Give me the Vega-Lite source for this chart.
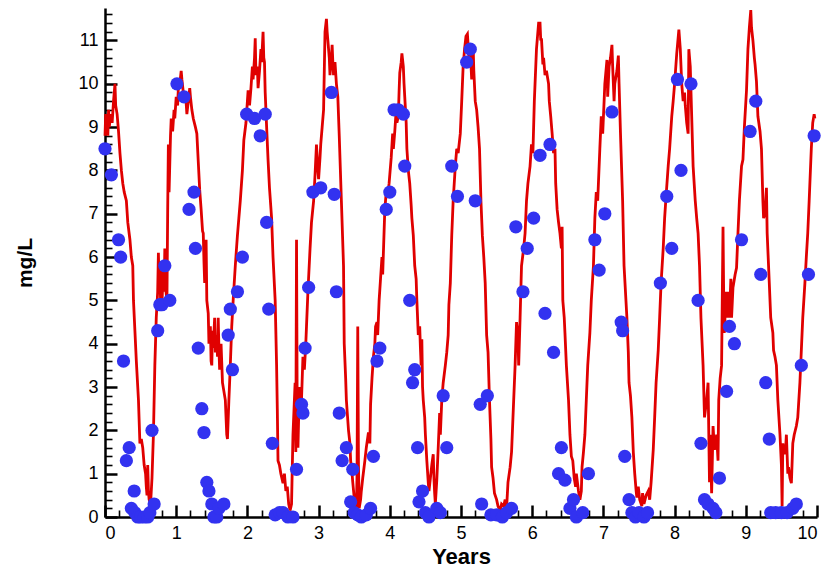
{
  "$schema": "https://vega.github.io/schema/vega-lite/v6.json",
  "autosize": "none",
  "width": 712,
  "height": 509,
  "padding": {"left": 105, "top": 8, "right": 12, "bottom": 50},
  "background": "white",
  "config": {
    "view": {"stroke": null},
    "axis": {
      "domainColor": "black",
      "domainWidth": 2.5,
      "tickColor": "black",
      "labelColor": "black",
      "titleColor": "black",
      "labelFont": "Liberation Sans",
      "titleFont": "Liberation Sans",
      "labelFontSize": 18,
      "grid": false
    }
  },
  "datasets": {
    "model": [
      {"t": 0.0, "v": 8.8}, {"t": 0.01, "v": 9.3}, {"t": 0.02, "v": 8.9}, {"t": 0.03, "v": 9.2}, {"t": 0.04, "v": 8.8},
      {"t": 0.05, "v": 9.4}, {"t": 0.06, "v": 9.0}, {"t": 0.08, "v": 9.3}, {"t": 0.1, "v": 9.1}, {"t": 0.12, "v": 9.6},
      {"t": 0.14, "v": 10.0}, {"t": 0.15, "v": 9.5}, {"t": 0.17, "v": 9.3}, {"t": 0.19, "v": 8.9}, {"t": 0.21, "v": 8.4},
      {"t": 0.23, "v": 8.0}, {"t": 0.25, "v": 7.7}, {"t": 0.27, "v": 7.5}, {"t": 0.3, "v": 7.3}, {"t": 0.32, "v": 6.8},
      {"t": 0.35, "v": 6.4}, {"t": 0.37, "v": 6.0}, {"t": 0.39, "v": 5.8}, {"t": 0.4, "v": 5.0}, {"t": 0.42, "v": 4.3},
      {"t": 0.44, "v": 3.6}, {"t": 0.46, "v": 3.0}, {"t": 0.47, "v": 2.7}, {"t": 0.49, "v": 1.7}, {"t": 0.51, "v": 1.8},
      {"t": 0.53, "v": 1.6}, {"t": 0.55, "v": 1.2}, {"t": 0.57, "v": 1.0}, {"t": 0.58, "v": 0.7}, {"t": 0.59, "v": 0.5},
      {"t": 0.6, "v": 1.2}, {"t": 0.61, "v": 0.6}, {"t": 0.62, "v": 0.4}, {"t": 0.64, "v": 0.3}, {"t": 0.66, "v": 0.9},
      {"t": 0.68, "v": 1.9}, {"t": 0.7, "v": 3.5}, {"t": 0.72, "v": 4.6}, {"t": 0.74, "v": 5.2}, {"t": 0.75, "v": 6.1},
      {"t": 0.76, "v": 5.3}, {"t": 0.77, "v": 5.9}, {"t": 0.78, "v": 5.0}, {"t": 0.79, "v": 5.7}, {"t": 0.8, "v": 4.9},
      {"t": 0.82, "v": 5.8}, {"t": 0.83, "v": 5.2}, {"t": 0.84, "v": 6.2}, {"t": 0.85, "v": 5.3}, {"t": 0.87, "v": 5.0},
      {"t": 0.88, "v": 7.0}, {"t": 0.89, "v": 8.6}, {"t": 0.9, "v": 7.5}, {"t": 0.92, "v": 8.8}, {"t": 0.93, "v": 9.2},
      {"t": 0.95, "v": 8.9}, {"t": 0.97, "v": 9.4}, {"t": 0.98, "v": 9.2}, {"t": 1.0, "v": 9.7}, {"t": 1.02, "v": 9.5},
      {"t": 1.03, "v": 9.9}, {"t": 1.05, "v": 10.0}, {"t": 1.07, "v": 10.3}, {"t": 1.08, "v": 10.1}, {"t": 1.1, "v": 9.8},
      {"t": 1.12, "v": 9.6}, {"t": 1.13, "v": 9.8}, {"t": 1.15, "v": 9.3}, {"t": 1.17, "v": 9.6}, {"t": 1.19, "v": 9.9},
      {"t": 1.2, "v": 9.7}, {"t": 1.22, "v": 9.4}, {"t": 1.24, "v": 9.2}, {"t": 1.27, "v": 9.0}, {"t": 1.29, "v": 8.85},
      {"t": 1.31, "v": 8.2}, {"t": 1.33, "v": 7.55}, {"t": 1.35, "v": 7.1}, {"t": 1.37, "v": 6.6}, {"t": 1.38, "v": 6.55},
      {"t": 1.39, "v": 5.9}, {"t": 1.4, "v": 5.4}, {"t": 1.42, "v": 6.4}, {"t": 1.43, "v": 5.0}, {"t": 1.45, "v": 4.7},
      {"t": 1.46, "v": 4.0}, {"t": 1.48, "v": 4.4}, {"t": 1.49, "v": 3.6}, {"t": 1.5, "v": 3.5}, {"t": 1.51, "v": 4.3},
      {"t": 1.52, "v": 3.9}, {"t": 1.54, "v": 4.6}, {"t": 1.55, "v": 3.8}, {"t": 1.57, "v": 4.2}, {"t": 1.58, "v": 3.7},
      {"t": 1.59, "v": 4.6}, {"t": 1.6, "v": 3.9}, {"t": 1.61, "v": 3.4}, {"t": 1.63, "v": 4.0}, {"t": 1.65, "v": 3.1},
      {"t": 1.67, "v": 2.9}, {"t": 1.69, "v": 2.7}, {"t": 1.71, "v": 1.9}, {"t": 1.72, "v": 1.8}, {"t": 1.74, "v": 2.7},
      {"t": 1.76, "v": 3.5}, {"t": 1.78, "v": 4.4}, {"t": 1.8, "v": 5.0}, {"t": 1.83, "v": 5.8}, {"t": 1.86, "v": 6.5},
      {"t": 1.88, "v": 6.9}, {"t": 1.9, "v": 7.3}, {"t": 1.93, "v": 8.0}, {"t": 1.95, "v": 8.7}, {"t": 1.98, "v": 9.1},
      {"t": 2.0, "v": 9.6}, {"t": 2.01, "v": 9.85}, {"t": 2.03, "v": 9.5}, {"t": 2.05, "v": 9.9}, {"t": 2.07, "v": 10.4},
      {"t": 2.08, "v": 10.1}, {"t": 2.1, "v": 10.6}, {"t": 2.11, "v": 11.05}, {"t": 2.12, "v": 10.2}, {"t": 2.14, "v": 10.4},
      {"t": 2.15, "v": 9.9}, {"t": 2.17, "v": 10.3}, {"t": 2.19, "v": 10.8}, {"t": 2.2, "v": 10.5}, {"t": 2.22, "v": 11.2},
      {"t": 2.23, "v": 10.6}, {"t": 2.24, "v": 10.5}, {"t": 2.25, "v": 9.8}, {"t": 2.27, "v": 9.0}, {"t": 2.29, "v": 8.25},
      {"t": 2.31, "v": 7.6}, {"t": 2.34, "v": 6.9}, {"t": 2.36, "v": 6.0}, {"t": 2.39, "v": 5.0}, {"t": 2.41, "v": 3.5},
      {"t": 2.42, "v": 2.5}, {"t": 2.43, "v": 1.3}, {"t": 2.45, "v": 1.2}, {"t": 2.47, "v": 1.0}, {"t": 2.5, "v": 0.78},
      {"t": 2.52, "v": 1.0}, {"t": 2.54, "v": 0.6}, {"t": 2.56, "v": 0.7}, {"t": 2.58, "v": 0.3}, {"t": 2.6, "v": 0.15},
      {"t": 2.62, "v": 0.3}, {"t": 2.64, "v": 1.9}, {"t": 2.67, "v": 3.1}, {"t": 2.68, "v": 1.5}, {"t": 2.69, "v": 6.4},
      {"t": 2.7, "v": 2.2}, {"t": 2.71, "v": 1.6}, {"t": 2.73, "v": 3.0}, {"t": 2.75, "v": 2.4}, {"t": 2.76, "v": 2.7},
      {"t": 2.78, "v": 3.7}, {"t": 2.8, "v": 3.4}, {"t": 2.82, "v": 4.0}, {"t": 2.83, "v": 4.4}, {"t": 2.85, "v": 5.2},
      {"t": 2.88, "v": 6.2}, {"t": 2.9, "v": 6.8}, {"t": 2.93, "v": 7.3}, {"t": 2.95, "v": 7.9}, {"t": 2.97, "v": 8.6},
      {"t": 2.99, "v": 8.0}, {"t": 3.0, "v": 7.8}, {"t": 3.02, "v": 8.3}, {"t": 3.03, "v": 8.6}, {"t": 3.05, "v": 9.0},
      {"t": 3.07, "v": 9.4}, {"t": 3.08, "v": 10.3}, {"t": 3.09, "v": 11.2}, {"t": 3.11, "v": 11.5}, {"t": 3.12, "v": 11.2},
      {"t": 3.13, "v": 11.0}, {"t": 3.15, "v": 10.6}, {"t": 3.16, "v": 10.2}, {"t": 3.18, "v": 10.6}, {"t": 3.19, "v": 10.9},
      {"t": 3.2, "v": 10.5}, {"t": 3.21, "v": 10.2}, {"t": 3.23, "v": 10.5}, {"t": 3.25, "v": 10.0}, {"t": 3.27, "v": 9.7},
      {"t": 3.29, "v": 8.8}, {"t": 3.32, "v": 7.3}, {"t": 3.35, "v": 5.8}, {"t": 3.36, "v": 4.0}, {"t": 3.38, "v": 3.2},
      {"t": 3.39, "v": 2.7}, {"t": 3.42, "v": 2.0}, {"t": 3.44, "v": 1.7}, {"t": 3.45, "v": 1.3}, {"t": 3.47, "v": 1.0},
      {"t": 3.48, "v": 0.8}, {"t": 3.5, "v": 0.45}, {"t": 3.52, "v": 0.3}, {"t": 3.53, "v": 0.15}, {"t": 3.54, "v": 1.0},
      {"t": 3.55, "v": 4.4}, {"t": 3.56, "v": 1.2}, {"t": 3.57, "v": 0.2}, {"t": 3.59, "v": 0.4}, {"t": 3.6, "v": 0.6},
      {"t": 3.62, "v": 0.9}, {"t": 3.65, "v": 1.3}, {"t": 3.67, "v": 1.6}, {"t": 3.7, "v": 1.95}, {"t": 3.72, "v": 1.7},
      {"t": 3.73, "v": 2.6}, {"t": 3.75, "v": 3.2}, {"t": 3.77, "v": 3.7}, {"t": 3.79, "v": 4.0}, {"t": 3.8, "v": 4.4},
      {"t": 3.82, "v": 4.5}, {"t": 3.83, "v": 4.2}, {"t": 3.85, "v": 5.0}, {"t": 3.87, "v": 5.5}, {"t": 3.89, "v": 6.0},
      {"t": 3.9, "v": 5.6}, {"t": 3.93, "v": 7.1}, {"t": 3.95, "v": 7.5}, {"t": 3.97, "v": 7.4}, {"t": 3.99, "v": 7.7},
      {"t": 4.02, "v": 8.3}, {"t": 4.04, "v": 8.85}, {"t": 4.05, "v": 8.5}, {"t": 4.07, "v": 8.9}, {"t": 4.09, "v": 9.4},
      {"t": 4.1, "v": 9.1}, {"t": 4.12, "v": 9.25}, {"t": 4.13, "v": 9.8}, {"t": 4.14, "v": 10.25}, {"t": 4.16, "v": 10.5},
      {"t": 4.17, "v": 10.7}, {"t": 4.19, "v": 10.4}, {"t": 4.2, "v": 10.0}, {"t": 4.21, "v": 9.7}, {"t": 4.23, "v": 9.1},
      {"t": 4.24, "v": 8.5}, {"t": 4.26, "v": 8.0}, {"t": 4.28, "v": 7.7}, {"t": 4.3, "v": 7.2}, {"t": 4.31, "v": 6.9},
      {"t": 4.33, "v": 6.5}, {"t": 4.35, "v": 5.8}, {"t": 4.37, "v": 5.5}, {"t": 4.38, "v": 5.0}, {"t": 4.4, "v": 4.2},
      {"t": 4.42, "v": 4.4}, {"t": 4.43, "v": 3.9}, {"t": 4.44, "v": 3.5}, {"t": 4.45, "v": 4.1}, {"t": 4.46, "v": 3.0},
      {"t": 4.47, "v": 2.7}, {"t": 4.49, "v": 2.3}, {"t": 4.5, "v": 1.9}, {"t": 4.52, "v": 1.3}, {"t": 4.54, "v": 0.8},
      {"t": 4.55, "v": 0.6}, {"t": 4.57, "v": 0.9}, {"t": 4.59, "v": 1.2}, {"t": 4.61, "v": 1.45}, {"t": 4.62, "v": 0.9},
      {"t": 4.63, "v": 0.55}, {"t": 4.64, "v": 0.3}, {"t": 4.66, "v": 0.85}, {"t": 4.68, "v": 1.6}, {"t": 4.7, "v": 2.4},
      {"t": 4.71, "v": 1.9}, {"t": 4.73, "v": 2.7}, {"t": 4.75, "v": 3.1}, {"t": 4.78, "v": 3.5}, {"t": 4.8, "v": 3.8},
      {"t": 4.82, "v": 4.2}, {"t": 4.83, "v": 4.9}, {"t": 4.85, "v": 5.4}, {"t": 4.87, "v": 6.5}, {"t": 4.89, "v": 7.3},
      {"t": 4.92, "v": 8.1}, {"t": 4.94, "v": 8.5}, {"t": 4.96, "v": 8.4}, {"t": 4.99, "v": 8.85}, {"t": 5.01, "v": 9.6},
      {"t": 5.03, "v": 10.4}, {"t": 5.05, "v": 10.8}, {"t": 5.07, "v": 11.1}, {"t": 5.09, "v": 11.15}, {"t": 5.1, "v": 10.9},
      {"t": 5.12, "v": 10.4}, {"t": 5.13, "v": 10.8}, {"t": 5.15, "v": 10.1}, {"t": 5.17, "v": 10.9}, {"t": 5.18, "v": 10.3},
      {"t": 5.2, "v": 9.6}, {"t": 5.22, "v": 9.4}, {"t": 5.24, "v": 9.0}, {"t": 5.26, "v": 8.5}, {"t": 5.28, "v": 7.3},
      {"t": 5.3, "v": 6.5}, {"t": 5.32, "v": 6.0}, {"t": 5.34, "v": 5.4}, {"t": 5.36, "v": 4.2}, {"t": 5.38, "v": 3.8},
      {"t": 5.4, "v": 2.7}, {"t": 5.42, "v": 1.8}, {"t": 5.43, "v": 1.15}, {"t": 5.45, "v": 0.9}, {"t": 5.47, "v": 0.55},
      {"t": 5.5, "v": 0.4}, {"t": 5.52, "v": 0.25}, {"t": 5.55, "v": 0.15}, {"t": 5.57, "v": 0.3}, {"t": 5.6, "v": 0.25},
      {"t": 5.62, "v": 0.4}, {"t": 5.64, "v": 0.2}, {"t": 5.66, "v": 0.8}, {"t": 5.69, "v": 1.15}, {"t": 5.71, "v": 1.5},
      {"t": 5.73, "v": 2.3}, {"t": 5.76, "v": 3.5}, {"t": 5.78, "v": 4.5}, {"t": 5.8, "v": 4.2}, {"t": 5.81, "v": 3.5},
      {"t": 5.83, "v": 4.6}, {"t": 5.85, "v": 5.8}, {"t": 5.88, "v": 6.2}, {"t": 5.9, "v": 6.55}, {"t": 5.92, "v": 7.3},
      {"t": 5.94, "v": 7.7}, {"t": 5.97, "v": 8.1}, {"t": 5.99, "v": 8.6}, {"t": 6.01, "v": 8.4}, {"t": 6.03, "v": 9.6},
      {"t": 6.06, "v": 10.8}, {"t": 6.09, "v": 11.4}, {"t": 6.11, "v": 11.4}, {"t": 6.12, "v": 11.0}, {"t": 6.13, "v": 11.05},
      {"t": 6.15, "v": 10.45}, {"t": 6.16, "v": 10.6}, {"t": 6.18, "v": 10.2}, {"t": 6.2, "v": 10.3}, {"t": 6.23, "v": 10.0},
      {"t": 6.24, "v": 9.6}, {"t": 6.26, "v": 9.25}, {"t": 6.28, "v": 8.85}, {"t": 6.3, "v": 8.4}, {"t": 6.32, "v": 8.5},
      {"t": 6.33, "v": 7.7}, {"t": 6.35, "v": 7.1}, {"t": 6.37, "v": 6.8}, {"t": 6.39, "v": 6.55}, {"t": 6.41, "v": 6.2},
      {"t": 6.42, "v": 6.7}, {"t": 6.43, "v": 5.0}, {"t": 6.45, "v": 4.6}, {"t": 6.46, "v": 4.25}, {"t": 6.48, "v": 3.5},
      {"t": 6.51, "v": 2.7}, {"t": 6.53, "v": 1.9}, {"t": 6.55, "v": 1.4}, {"t": 6.57, "v": 1.3}, {"t": 6.59, "v": 0.9},
      {"t": 6.61, "v": 0.7}, {"t": 6.62, "v": 1.0}, {"t": 6.65, "v": 0.6}, {"t": 6.67, "v": 0.4}, {"t": 6.69, "v": 0.6},
      {"t": 6.7, "v": 1.15}, {"t": 6.72, "v": 1.5}, {"t": 6.74, "v": 1.9}, {"t": 6.76, "v": 2.7}, {"t": 6.78, "v": 3.5},
      {"t": 6.81, "v": 4.25}, {"t": 6.83, "v": 5.0}, {"t": 6.86, "v": 5.8}, {"t": 6.88, "v": 6.9}, {"t": 6.9, "v": 7.5},
      {"t": 6.92, "v": 7.3}, {"t": 6.95, "v": 8.5}, {"t": 6.97, "v": 9.25}, {"t": 6.99, "v": 8.85}, {"t": 7.01, "v": 9.6},
      {"t": 7.02, "v": 10.0}, {"t": 7.05, "v": 10.55}, {"t": 7.06, "v": 9.7}, {"t": 7.08, "v": 10.4}, {"t": 7.1, "v": 10.6},
      {"t": 7.12, "v": 10.9}, {"t": 7.13, "v": 10.4}, {"t": 7.15, "v": 9.6}, {"t": 7.16, "v": 10.0}, {"t": 7.19, "v": 10.3},
      {"t": 7.21, "v": 10.65}, {"t": 7.22, "v": 10.0}, {"t": 7.24, "v": 8.85}, {"t": 7.27, "v": 7.3}, {"t": 7.29, "v": 5.8},
      {"t": 7.31, "v": 5.2}, {"t": 7.33, "v": 4.6}, {"t": 7.35, "v": 3.8}, {"t": 7.36, "v": 3.1}, {"t": 7.38, "v": 2.8},
      {"t": 7.4, "v": 2.3}, {"t": 7.42, "v": 1.5}, {"t": 7.44, "v": 1.0}, {"t": 7.46, "v": 0.6}, {"t": 7.47, "v": 0.45},
      {"t": 7.49, "v": 0.7}, {"t": 7.51, "v": 0.4}, {"t": 7.54, "v": 0.25}, {"t": 7.55, "v": 0.55}, {"t": 7.57, "v": 0.3},
      {"t": 7.6, "v": 0.5}, {"t": 7.63, "v": 0.6}, {"t": 7.65, "v": 0.4}, {"t": 7.67, "v": 0.8}, {"t": 7.7, "v": 1.55},
      {"t": 7.72, "v": 2.3}, {"t": 7.74, "v": 3.1}, {"t": 7.77, "v": 3.85}, {"t": 7.79, "v": 4.6}, {"t": 7.81, "v": 5.4},
      {"t": 7.84, "v": 6.2}, {"t": 7.86, "v": 6.9}, {"t": 7.88, "v": 7.4}, {"t": 7.91, "v": 8.1}, {"t": 7.93, "v": 8.5},
      {"t": 7.96, "v": 9.25}, {"t": 7.98, "v": 9.6}, {"t": 8.0, "v": 10.0}, {"t": 8.03, "v": 10.7}, {"t": 8.06, "v": 11.25},
      {"t": 8.08, "v": 10.8}, {"t": 8.1, "v": 10.0}, {"t": 8.12, "v": 9.6}, {"t": 8.14, "v": 9.8}, {"t": 8.15, "v": 9.5},
      {"t": 8.17, "v": 9.1}, {"t": 8.19, "v": 8.85}, {"t": 8.2, "v": 10.8}, {"t": 8.22, "v": 10.4}, {"t": 8.24, "v": 9.25},
      {"t": 8.26, "v": 8.1}, {"t": 8.29, "v": 7.3}, {"t": 8.31, "v": 6.9}, {"t": 8.33, "v": 6.55}, {"t": 8.35, "v": 5.8},
      {"t": 8.37, "v": 4.6}, {"t": 8.4, "v": 3.5}, {"t": 8.42, "v": 2.3}, {"t": 8.45, "v": 2.7}, {"t": 8.47, "v": 3.1},
      {"t": 8.49, "v": 0.8}, {"t": 8.5, "v": 1.9}, {"t": 8.52, "v": 0.55}, {"t": 8.54, "v": 2.1}, {"t": 8.56, "v": 1.55},
      {"t": 8.59, "v": 1.9}, {"t": 8.61, "v": 1.3}, {"t": 8.62, "v": 2.7}, {"t": 8.64, "v": 3.2}, {"t": 8.66, "v": 3.5},
      {"t": 8.68, "v": 6.7}, {"t": 8.69, "v": 5.0}, {"t": 8.7, "v": 4.25}, {"t": 8.72, "v": 5.2}, {"t": 8.73, "v": 4.6},
      {"t": 8.75, "v": 5.2}, {"t": 8.77, "v": 4.6}, {"t": 8.79, "v": 5.5}, {"t": 8.8, "v": 4.6}, {"t": 8.82, "v": 5.3},
      {"t": 8.85, "v": 5.6}, {"t": 8.87, "v": 5.75}, {"t": 8.89, "v": 6.55}, {"t": 8.91, "v": 7.3}, {"t": 8.94, "v": 8.1},
      {"t": 8.96, "v": 8.25}, {"t": 8.98, "v": 9.0}, {"t": 9.01, "v": 9.85}, {"t": 9.03, "v": 10.8}, {"t": 9.05, "v": 11.3},
      {"t": 9.07, "v": 11.7}, {"t": 9.08, "v": 11.3}, {"t": 9.1, "v": 11.0}, {"t": 9.12, "v": 10.6}, {"t": 9.13, "v": 10.45},
      {"t": 9.15, "v": 10.05}, {"t": 9.17, "v": 9.25}, {"t": 9.2, "v": 8.9}, {"t": 9.22, "v": 8.5}, {"t": 9.24, "v": 7.3},
      {"t": 9.25, "v": 6.9}, {"t": 9.27, "v": 7.0}, {"t": 9.29, "v": 7.6}, {"t": 9.3, "v": 6.55}, {"t": 9.33, "v": 5.4},
      {"t": 9.35, "v": 4.6}, {"t": 9.38, "v": 4.25}, {"t": 9.39, "v": 3.85}, {"t": 9.41, "v": 3.7}, {"t": 9.43, "v": 3.5},
      {"t": 9.45, "v": 2.7}, {"t": 9.48, "v": 1.9}, {"t": 9.5, "v": 1.2}, {"t": 9.51, "v": 0.25}, {"t": 9.52, "v": 1.7},
      {"t": 9.54, "v": 1.45}, {"t": 9.56, "v": 1.6}, {"t": 9.57, "v": 1.9}, {"t": 9.59, "v": 1.0}, {"t": 9.6, "v": 1.15},
      {"t": 9.62, "v": 0.9}, {"t": 9.64, "v": 0.78}, {"t": 9.66, "v": 1.7}, {"t": 9.68, "v": 1.9}, {"t": 9.71, "v": 2.1},
      {"t": 9.73, "v": 2.3}, {"t": 9.76, "v": 3.1}, {"t": 9.78, "v": 3.85}, {"t": 9.8, "v": 4.6}, {"t": 9.83, "v": 5.4},
      {"t": 9.85, "v": 6.0}, {"t": 9.87, "v": 6.55}, {"t": 9.89, "v": 7.3}, {"t": 9.92, "v": 8.5}, {"t": 9.94, "v": 9.1},
      {"t": 9.96, "v": 9.3}, {"t": 9.97, "v": 9.2}
    ],
    "observed": [
      {"t": 0.0, "v": 8.5}, {"t": 0.09, "v": 7.9}, {"t": 0.19, "v": 6.4}, {"t": 0.22, "v": 6.0}, {"t": 0.26, "v": 3.6},
      {"t": 0.3, "v": 1.3}, {"t": 0.34, "v": 1.6}, {"t": 0.37, "v": 0.2}, {"t": 0.41, "v": 0.6}, {"t": 0.42, "v": 0.1},
      {"t": 0.46, "v": 0.0}, {"t": 0.5, "v": 0.0}, {"t": 0.55, "v": 0.0}, {"t": 0.6, "v": 0.0}, {"t": 0.63, "v": 0.1},
      {"t": 0.66, "v": 2.0}, {"t": 0.69, "v": 0.3}, {"t": 0.74, "v": 4.3}, {"t": 0.77, "v": 4.9}, {"t": 0.8, "v": 4.9},
      {"t": 0.84, "v": 5.8}, {"t": 0.91, "v": 5.0},
      {"t": 1.01, "v": 10.0}, {"t": 1.11, "v": 9.7}, {"t": 1.18, "v": 7.1}, {"t": 1.25, "v": 7.5}, {"t": 1.27, "v": 6.2},
      {"t": 1.31, "v": 3.9}, {"t": 1.36, "v": 2.5}, {"t": 1.39, "v": 1.95}, {"t": 1.43, "v": 0.8}, {"t": 1.46, "v": 0.6},
      {"t": 1.5, "v": 0.3}, {"t": 1.53, "v": 0.0}, {"t": 1.57, "v": 0.0}, {"t": 1.6, "v": 0.2}, {"t": 1.67, "v": 0.3},
      {"t": 1.73, "v": 4.2}, {"t": 1.76, "v": 4.8}, {"t": 1.79, "v": 3.4}, {"t": 1.86, "v": 5.2}, {"t": 1.93, "v": 6.0},
      {"t": 1.99, "v": 9.3},
      {"t": 2.1, "v": 9.2}, {"t": 2.18, "v": 8.8}, {"t": 2.25, "v": 9.3}, {"t": 2.27, "v": 6.8}, {"t": 2.3, "v": 4.8},
      {"t": 2.35, "v": 1.7}, {"t": 2.39, "v": 0.05}, {"t": 2.45, "v": 0.1}, {"t": 2.5, "v": 0.1}, {"t": 2.57, "v": 0.0},
      {"t": 2.64, "v": 0.0}, {"t": 2.69, "v": 1.1}, {"t": 2.76, "v": 2.6}, {"t": 2.78, "v": 2.4}, {"t": 2.81, "v": 3.9},
      {"t": 2.86, "v": 5.3}, {"t": 2.92, "v": 7.5}, {"t": 3.03, "v": 7.6}, {"t": 3.18, "v": 9.8}, {"t": 3.22, "v": 7.45},
      {"t": 3.25, "v": 5.2}, {"t": 3.29, "v": 2.4}, {"t": 3.33, "v": 1.3}, {"t": 3.39, "v": 1.6}, {"t": 3.45, "v": 0.35},
      {"t": 3.48, "v": 1.1}, {"t": 3.5, "v": 0.1}, {"t": 3.55, "v": 0.05}, {"t": 3.6, "v": 0.0}, {"t": 3.67, "v": 0.05},
      {"t": 3.73, "v": 0.2}, {"t": 3.77, "v": 1.4}, {"t": 3.82, "v": 3.6}, {"t": 3.86, "v": 3.9}, {"t": 3.95, "v": 7.1},
      {"t": 4.0, "v": 7.5}, {"t": 4.06, "v": 9.4},
      {"t": 4.12, "v": 9.4}, {"t": 4.19, "v": 9.3}, {"t": 4.21, "v": 8.1}, {"t": 4.28, "v": 5.0}, {"t": 4.32, "v": 3.1},
      {"t": 4.35, "v": 3.4}, {"t": 4.39, "v": 1.6}, {"t": 4.41, "v": 0.35}, {"t": 4.46, "v": 0.6}, {"t": 4.5, "v": 0.1},
      {"t": 4.55, "v": 0.0}, {"t": 4.66, "v": 0.2}, {"t": 4.71, "v": 0.1}, {"t": 4.75, "v": 2.8}, {"t": 4.8, "v": 1.6},
      {"t": 4.87, "v": 8.1}, {"t": 4.95, "v": 7.4}, {"t": 5.08, "v": 10.5}, {"t": 5.13, "v": 10.8}, {"t": 5.2, "v": 7.3},
      {"t": 5.27, "v": 2.6}, {"t": 5.29, "v": 0.3}, {"t": 5.37, "v": 2.8}, {"t": 5.42, "v": 0.05}, {"t": 5.5, "v": 0.05},
      {"t": 5.58, "v": 0.0}, {"t": 5.64, "v": 0.1}, {"t": 5.71, "v": 0.2}, {"t": 5.77, "v": 6.7}, {"t": 5.87, "v": 5.2},
      {"t": 5.93, "v": 6.2}, {"t": 6.02, "v": 6.9},
      {"t": 6.11, "v": 8.35}, {"t": 6.18, "v": 4.7}, {"t": 6.25, "v": 8.6}, {"t": 6.3, "v": 3.8}, {"t": 6.37, "v": 1.0},
      {"t": 6.41, "v": 1.6}, {"t": 6.46, "v": 0.85}, {"t": 6.53, "v": 0.2}, {"t": 6.58, "v": 0.4}, {"t": 6.62, "v": 0.0},
      {"t": 6.71, "v": 0.1}, {"t": 6.79, "v": 1.0}, {"t": 6.88, "v": 6.4}, {"t": 6.94, "v": 5.7}, {"t": 7.02, "v": 7.0},
      {"t": 7.12, "v": 9.35}, {"t": 7.25, "v": 4.5}, {"t": 7.27, "v": 4.3}, {"t": 7.3, "v": 1.4}, {"t": 7.36, "v": 0.4},
      {"t": 7.4, "v": 0.1}, {"t": 7.45, "v": 0.0}, {"t": 7.5, "v": 0.1}, {"t": 7.57, "v": 0.0}, {"t": 7.62, "v": 0.1},
      {"t": 7.8, "v": 5.4}, {"t": 7.89, "v": 7.4}, {"t": 7.96, "v": 6.2},
      {"t": 8.04, "v": 10.1}, {"t": 8.09, "v": 8.0}, {"t": 8.23, "v": 10.0}, {"t": 8.33, "v": 5.0}, {"t": 8.37, "v": 1.7},
      {"t": 8.42, "v": 0.4}, {"t": 8.47, "v": 0.3}, {"t": 8.54, "v": 0.2}, {"t": 8.58, "v": 0.1}, {"t": 8.63, "v": 0.9},
      {"t": 8.73, "v": 2.9}, {"t": 8.77, "v": 4.4}, {"t": 8.84, "v": 4.0}, {"t": 8.94, "v": 6.4}, {"t": 9.06, "v": 8.9},
      {"t": 9.14, "v": 9.6}, {"t": 9.21, "v": 5.6}, {"t": 9.28, "v": 3.1}, {"t": 9.33, "v": 1.8}, {"t": 9.35, "v": 0.1},
      {"t": 9.42, "v": 0.1}, {"t": 9.5, "v": 0.1}, {"t": 9.58, "v": 0.1}, {"t": 9.66, "v": 0.2}, {"t": 9.71, "v": 0.3},
      {"t": 9.78, "v": 3.5}, {"t": 9.88, "v": 5.6}, {"t": 9.96, "v": 8.8}
    ]
  },
  "layer": [
    {
      "data": {"name": "model"},
      "mark": {"type": "line", "color": "#e00000", "strokeWidth": 2.8, "strokeJoin": "miter"},
      "encoding": {
        "x": {
          "field": "t", "type": "quantitative",
          "scale": {"domain": [0, 10], "nice": false},
          "axis": {
            "orient": "bottom",
            "values": [0, 1, 2, 3, 4, 5, 6, 7, 8, 9, 10],
            "tickSize": -12, "tickWidth": 2.5, "labelPadding": 19,
            "labelFontSize": 18,
            "title": "Years", "titleFontSize": 22, "titleFontWeight": "bold", "titlePadding": 4
          }
        },
        "y": {
          "field": "v", "type": "quantitative",
          "scale": {"domain": [0, 11.75], "nice": false},
          "axis": {
            "orient": "left",
            "values": [0, 1, 2, 3, 4, 5, 6, 7, 8, 9, 10, 11],
            "tickSize": -12, "tickWidth": 2.5, "labelPadding": 19,
            "labelFontSize": 18,
            "title": "mg/L", "titleFontSize": 21, "titleFontWeight": "bold", "titlePadding": 42
          }
        }
      }
    },
    {
      "data": {"name": "observed"},
      "mark": {"type": "point", "filled": true, "shape": "circle", "size": 175, "color": "#3232f0", "opacity": 1},
      "encoding": {
        "x": {
          "field": "t", "type": "quantitative",
          "axis": {
            "orient": "bottom",
            "values": [0.2, 0.4, 0.6, 0.8, 1.2, 1.4, 1.6, 1.8, 2.2, 2.4, 2.6, 2.8, 3.2, 3.4, 3.6, 3.8, 4.2, 4.4, 4.6, 4.8, 5.2, 5.4, 5.6, 5.8, 6.2, 6.4, 6.6, 6.8, 7.2, 7.4, 7.6, 7.8, 8.2, 8.4, 8.6, 8.8, 9.2, 9.4, 9.6, 9.8],
            "tickSize": -7, "tickWidth": 1.6, "labels": false, "domain": false, "title": null
          }
        },
        "y": {
          "field": "v", "type": "quantitative",
          "axis": {
            "orient": "left",
            "values": [0.2, 0.4, 0.6, 0.8, 1.2, 1.4, 1.6, 1.8, 2.2, 2.4, 2.6, 2.8, 3.2, 3.4, 3.6, 3.8, 4.2, 4.4, 4.6, 4.8, 5.2, 5.4, 5.6, 5.8, 6.2, 6.4, 6.6, 6.8, 7.2, 7.4, 7.6, 7.8, 8.2, 8.4, 8.6, 8.8, 9.2, 9.4, 9.6, 9.8, 10.2, 10.4, 10.6, 10.8, 11.2, 11.4, 11.6],
            "tickSize": -7, "tickWidth": 1.6, "labels": false, "domain": false, "title": null
          }
        }
      }
    }
  ],
  "resolve": {"axis": {"x": "independent", "y": "independent"}}
}
